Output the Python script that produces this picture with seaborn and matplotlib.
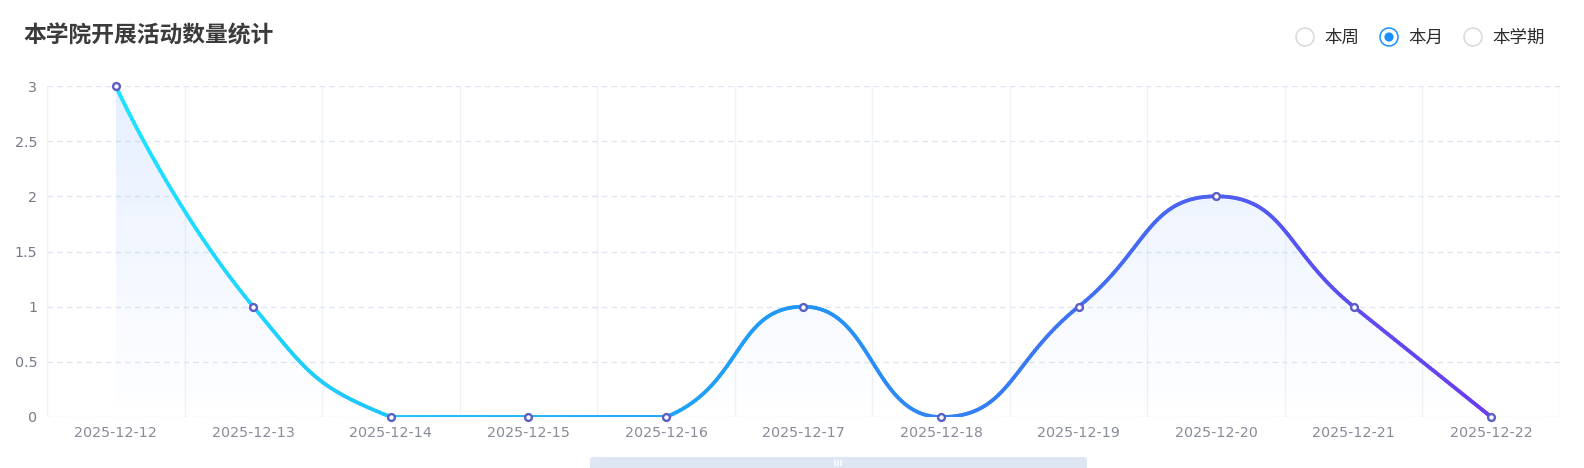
import numpy as np
import matplotlib
matplotlib.use("Agg")
import matplotlib.pyplot as plt
import seaborn as sns
from matplotlib.collections import LineCollection
from matplotlib.patches import Polygon, Circle, FancyBboxPatch
from matplotlib.colors import LinearSegmentedColormap, to_rgb

# ---------------- data ----------------
title_text = "本学院开展活动数量统计"
dates = ["2025-12-12", "2025-12-13", "2025-12-14", "2025-12-15", "2025-12-16",
         "2025-12-17", "2025-12-18", "2025-12-19", "2025-12-20", "2025-12-21",
         "2025-12-22"]
counts = [3, 1, 0, 0, 0, 1, 0, 1, 2, 1, 0]
y_ticks = [0, 0.5, 1, 1.5, 2, 2.5, 3]
y_tick_labels = ["0", "0.5", "1", "1.5", "2", "2.5", "3"]
radio_options = ["本周", "本月", "本学期"]
radio_selected = "本月"

# ---------------- style ----------------
sns.set_style("white")
plt.rcParams["font.family"] = ["DejaVu Sans", "Noto Sans CJK SC"]
CJK = ["Noto Sans CJK SC", "DejaVu Sans"]

W, H, DPI = 1584, 468, 100
fig = plt.figure(figsize=(W / DPI, H / DPI), dpi=DPI)
fig.patch.set_facecolor("white")

ax_l, ax_r, ax_t, ax_b = 47, 1560, 86, 417
ax = fig.add_axes([ax_l / W, (H - ax_b) / H, (ax_r - ax_l) / W, (ax_b - ax_t) / H])
n = len(dates)
for s in ax.spines.values():
    s.set_visible(False)

# pixel scales for smoothing (ECharts-like)
sx = (ax_r - ax_l) / n
sy = (ax_b - ax_t) / 3.0


def echarts_smooth(xv, yv, smooth=0.5, per_seg=60):
    P = np.column_stack([np.asarray(xv, float) * sx, np.asarray(yv, float) * sy])
    mn, mx = P.min(axis=0), P.max(axis=0)
    m = len(P)
    cin = [None] * m
    cout = [None] * m
    for i in range(m):
        if i == 0 or i == m - 1:
            cin[i] = P[i].copy()
            cout[i] = P[i].copy()
            continue
        v = P[i + 1] - P[i - 1]
        lp = np.hypot(*(P[i] - P[i - 1]))
        ln = np.hypot(*(P[i + 1] - P[i]))
        r = ln / (ln + lp)
        a = P[i] - v * smooth * (1 - r)
        b = P[i] + v * smooth * r
        cin[i] = np.clip(a, mn, mx)
        cout[i] = np.clip(b, mn, mx)
    pts = []
    t = np.linspace(0, 1, per_seg)[:, None]
    for i in range(m - 1):
        p0, p1, p2, p3 = P[i], cout[i], cin[i + 1], P[i + 1]
        seg = ((1 - t) ** 3) * p0 + 3 * ((1 - t) ** 2) * t * p1 + 3 * (1 - t) * t ** 2 * p2 + t ** 3 * p3
        pts.append(seg if i == 0 else seg[1:])
    pts = np.vstack(pts)
    return pts[:, 0] / sx, pts[:, 1] / sy


xpos = np.arange(n)
cx, cy = echarts_smooth(xpos, counts)

# grid lines
for k in range(n + 1):
    ax.axvline(k - 0.5, color="#f1f2f6", lw=1, zorder=0)
for yt in y_ticks:
    ax.axhline(yt, color="#e0e6f1", lw=1, ls=(0, (4, 3)), zorder=0.5)

# area fill with vertical gradient (strong at top, transparent at bottom)
poly = Polygon(np.column_stack([np.r_[cx, cx[-1], cx[0]], np.r_[cy, 0, 0]]),
               closed=True, facecolor="none", edgecolor="none")
ax.add_patch(poly)
grad = np.zeros((256, 2, 4))
base = to_rgb("#4a8cff")
grad[..., 0], grad[..., 1], grad[..., 2] = base
grad[..., 3] = np.linspace(0.14, 0.0, 256)[:, None]   # row 0 = top
im = ax.imshow(grad, extent=[cx[0], cx[-1], 0, 3], origin="upper", aspect="auto",
               zorder=1, interpolation="bilinear")
im.set_clip_path(poly)

# gradient line
cmap = LinearSegmentedColormap.from_list(
    "lg", [(0.0, "#1de4ff"), (0.5, "#2196f6"), (1.0, "#6b3bf0")])
segs = np.stack([np.column_stack([cx[:-1], cy[:-1]]), np.column_stack([cx[1:], cy[1:]])], axis=1)
frac = ((cx[:-1] + cx[1:]) / 2 - cx[0]) / (cx[-1] - cx[0])
lc = LineCollection(segs, colors=cmap(frac), linewidths=2.7, capstyle="round",
                    joinstyle="round", zorder=3)
ax.add_collection(lc)

# markers
sns.scatterplot(x=xpos, y=counts, ax=ax, s=24, color="white", edgecolor="#5a5ec6",
                linewidth=1.7, zorder=4, legend=False, clip_on=False)

ax.set_xlim(-0.5, n - 0.5)
ax.set_ylim(0, 3)

# ticks
ax.set_xticks(xpos)
ax.set_xticklabels(dates, fontsize=10.3, color="#878b97")
ax.set_yticks(y_ticks)
ax.set_yticklabels(y_tick_labels, fontsize=10.3, color="#767a86")
ax.tick_params(axis="both", length=0)
ax.tick_params(axis="x", pad=6.5)
ax.tick_params(axis="y", pad=7)
ax.set_xlabel("")
ax.set_ylabel("")

# title
fig.text(23 / W, 1 - 36 / H, title_text, fontsize=16.4, fontweight="bold",
         color="#3b3b3b", family=CJK, ha="left", va="center")

# overlay for decorations
ov = fig.add_axes([0, 0, 1, 1], zorder=10)
ov.set_xlim(0, W)
ov.set_ylim(H, 0)
ov.axis("off")
ov.patch.set_alpha(0)

radio_cx = [1305, 1389, 1473]
for opt, rx in zip(radio_options, radio_cx):
    sel = opt == radio_selected
    ov.add_patch(Circle((rx, 37), 9, facecolor="white",
                        edgecolor="#1890ff" if sel else "#d9d9d9", lw=1.1))
    if sel:
        ov.add_patch(Circle((rx, 37), 4.6, facecolor="#1890ff", edgecolor="none"))
    ov.text(rx + 19, 37.5, opt, fontsize=12.6, color="#2b2b2b", family=CJK,
            ha="left", va="center")

# data zoom slider
ov.add_patch(FancyBboxPatch((590, 457), 497, 16, boxstyle="round,pad=0,rounding_size=3",
                            facecolor="#dfe6f3", edgecolor="none"))
for hx in [834.5, 837.5, 840.5]:
    ov.plot([hx, hx], [460, 466], color="white", lw=1.2, solid_capstyle="butt")

fig.savefig("out.png", dpi=DPI, facecolor="white")
